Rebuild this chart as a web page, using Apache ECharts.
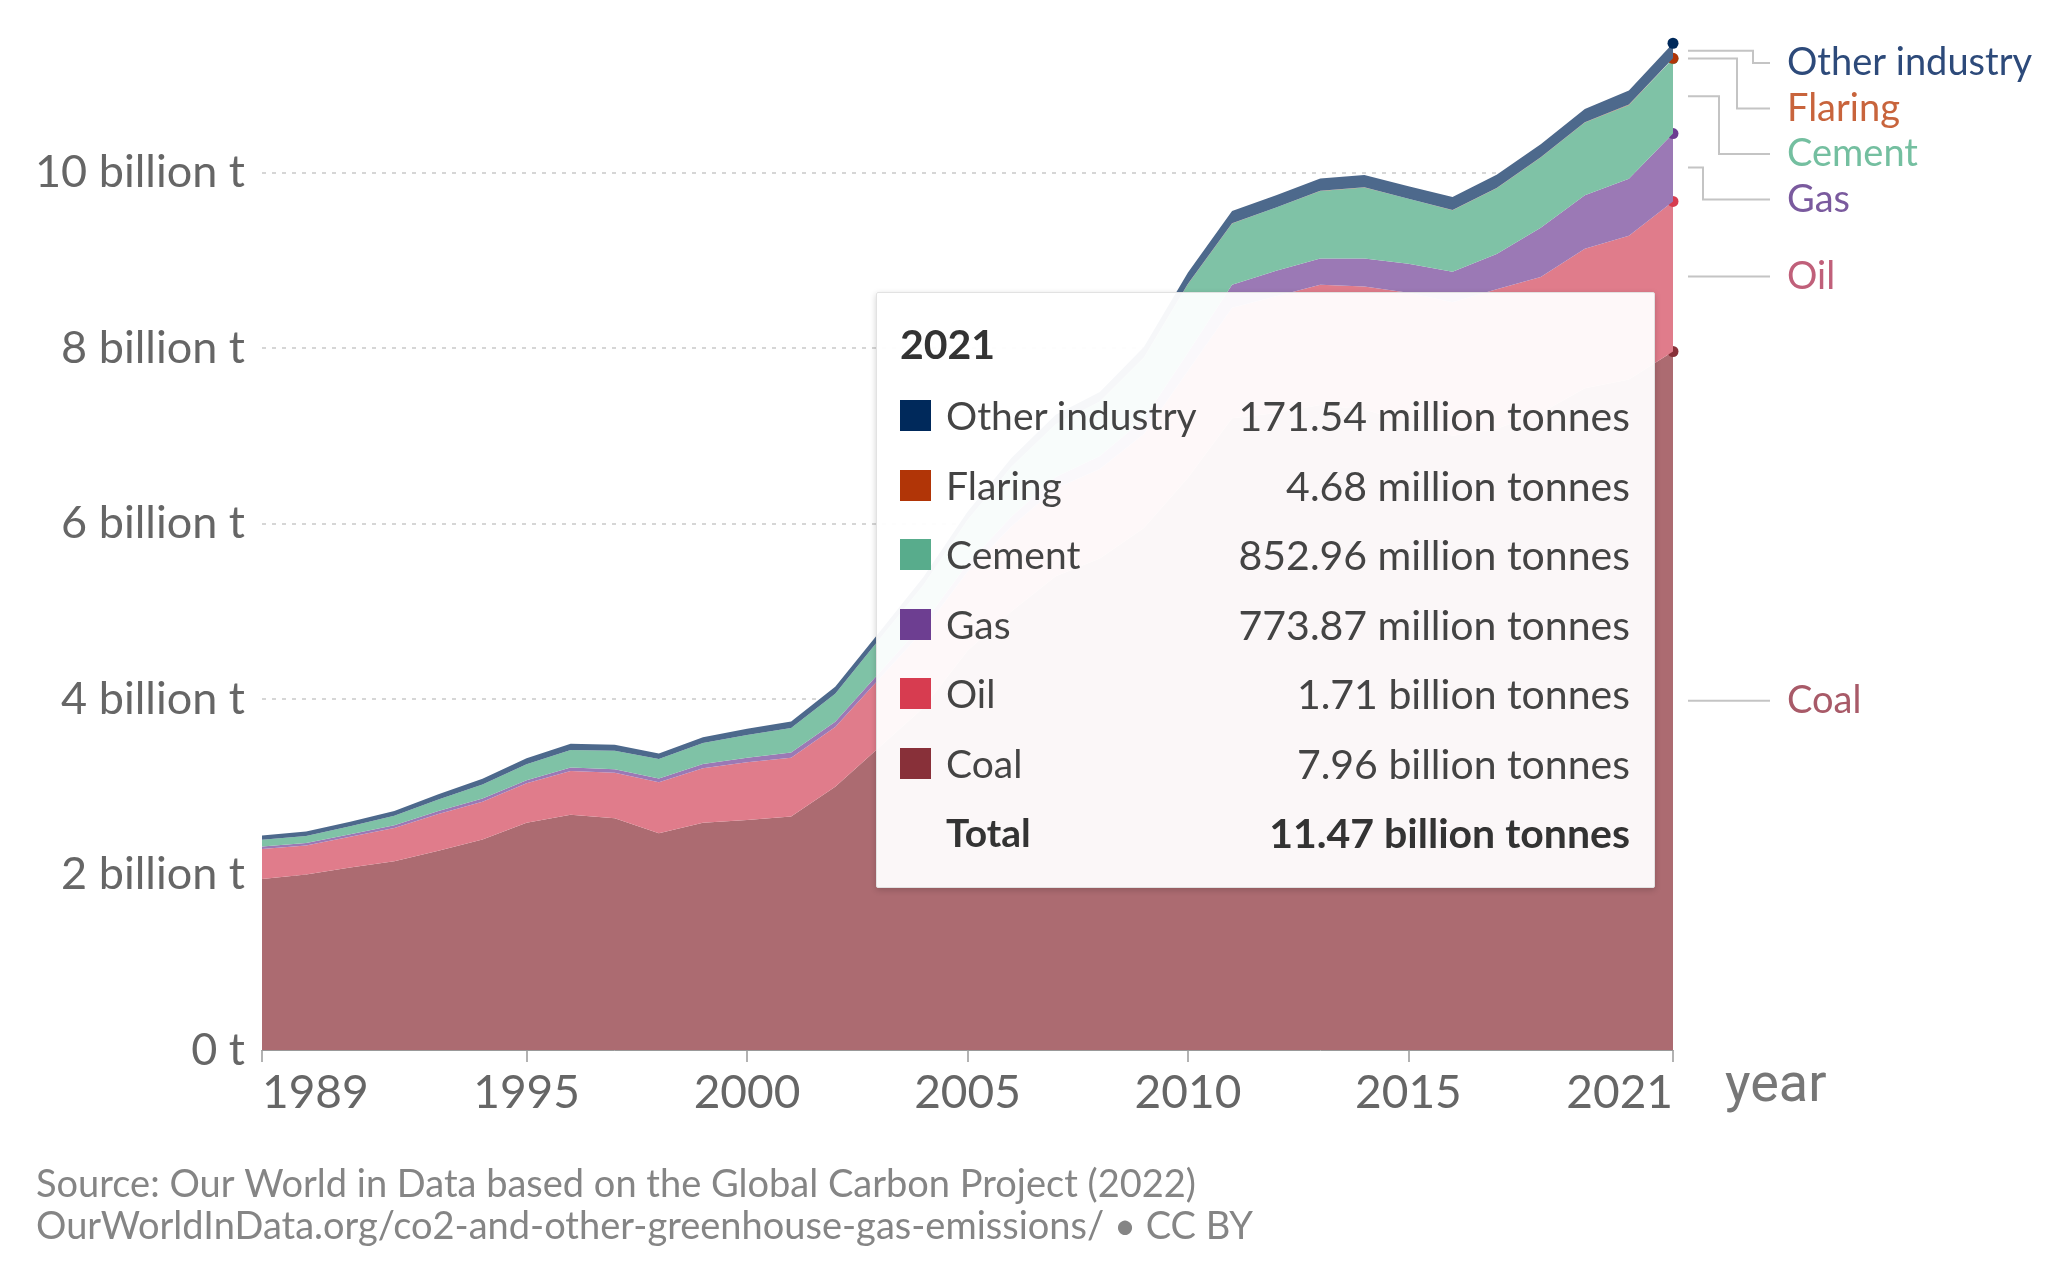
<!DOCTYPE html>
<html>
<head>
<meta charset="utf-8">
<script src="https://cdn.jsdelivr.net/npm/echarts@6/dist/echarts.min.js"></script>
<style>
html, body { margin: 0; padding: 0; background: #fff; }
#main { width: 2066px; height: 1278px; }
</style>
</head>
<body>
<div id="main"></div>
<script>
// values in million tonnes of CO2
let years = [1989, 1990, 1991, 1992, 1993, 1994, 1995, 1996, 1997, 1998, 1999, 2000, 2001, 2002, 2003, 2004, 2005,
    2006, 2007, 2008, 2009, 2010, 2011, 2012, 2013, 2014, 2015, 2016, 2017, 2018, 2019, 2020, 2021];
let coal = [1950, 2000, 2080, 2150, 2270, 2400, 2590, 2680, 2640, 2470, 2590, 2620, 2660, 3000, 3450, 3900, 4550,
    5000, 5400, 5600, 5950, 6520, 7200, 7260, 7350, 7300, 7150, 7000, 7080, 7260, 7540, 7640, 7960];
let oil = [340, 330, 350, 380, 420, 430, 450, 500, 520, 580, 620, 660, 670, 680, 780, 880, 900,
    970, 1000, 1020, 1070, 1220, 1260, 1330, 1370, 1400, 1480, 1520, 1590, 1550, 1590, 1640, 1710];
let gas = [30, 30, 30, 30, 35, 35, 35, 40, 40, 45, 50, 50, 60, 60, 70, 80, 90,
    110, 130, 150, 170, 210, 260, 290, 300, 320, 330, 350, 400, 560, 610, 650, 773.87];
let cement = [75, 80, 90, 110, 130, 160, 180, 200, 210, 220, 240, 260, 280, 320, 380, 440, 500,
    570, 600, 620, 700, 780, 700, 720, 770, 810, 740, 700, 750, 800, 830, 840, 852.96];
let flaring = [0, 0, 0, 0, 0, 0, 0, 0, 0, 0, 0, 0, 0, 0, 0, 0, 0,
    0, 0, 0, 1, 1, 1, 1, 2, 2, 2, 2, 3, 3, 4, 4, 4.68];
let otherIndustry = [50, 50, 50, 55, 60, 65, 70, 70, 70, 65, 65, 70, 75, 80, 80, 90, 95,
    100, 110, 110, 120, 130, 140, 140, 140, 140, 140, 150, 150, 150, 150, 160, 171.54];

let tickYears = [1989, 1995, 2000, 2005, 2010, 2015, 2021];
let yTicks = [0, 2000, 4000, 6000, 8000, 10000];

// stacking order, bottom to top
let seriesNames = ['Coal', 'Oil', 'Gas', 'Cement', 'Flaring', 'Other industry'];
let seriesData = [coal, oil, gas, cement, flaring, otherIndustry];
let swatchColors = ['#883039', '#D73C50', '#6D3E91', '#58AC8C', '#B13507', '#00295B'];
let areaColors = ['#ac6b71', '#e07c8b', '#9b79b5', '#7fc2a6', '#c87151', '#4d698c'];
let labelColors = ['#a85a68', '#c0607a', '#7a5a9e', '#74bfa0', '#c8643c', '#2d4a7a'];

let last = years.length - 1;
let fontFamily = 'Lato, "Noto Sans", sans-serif';

function fmtTonnes(v) {
    if (v >= 1000) {
        return (v / 1000).toFixed(2) + ' billion tonnes';
    }
    return v.toFixed(2) + ' million tonnes';
}

let chart = echarts.init(document.getElementById('main'));

let series = seriesData.map(function (d, i) {
    return {
        name: seriesNames[i],
        type: 'line',
        stack: 'total',
        data: d,
        showSymbol: true,
        showAllSymbol: true,
        symbol: 'circle',
        symbolSize: function (val, params) {
            return params.dataIndex === last ? 10 : 0; // only the hovered 2021 dots
        },
        itemStyle: { color: swatchColors[i] },
        lineStyle: { width: 0 },
        areaStyle: { color: areaColors[i], opacity: 1 },
        emphasis: { disabled: true },
        z: 2 + i
    };
});

chart.setOption({
    animation: false,
    backgroundColor: '#ffffff',
    grid: {
        left: 262,
        right: 393,
        top: -3,
        bottom: 228,
        outerBoundsMode: 'none'
    },
    xAxis: {
        type: 'category',
        data: years,
        boundaryGap: false,
        name: 'year',
        nameLocation: 'end',
        nameGap: 52,
        nameTextStyle: {
            color: '#777',
            fontSize: 54,
            fontFamily: 'Roboto, sans-serif',
            verticalAlign: 'top',
            padding: [10, 0, 0, 0]
        },
        axisLine: { show: true, lineStyle: { color: '#999', width: 1 } },
        axisTick: {
            show: true,
            length: 12,
            lineStyle: { color: '#999', width: 1.5 },
            interval: function (idx, val) { return tickYears.indexOf(+val) >= 0; }
        },
        axisLabel: {
            color: '#666',
            fontSize: 46,
            fontFamily: fontFamily,
            margin: 20,
            alignMinLabel: 'left',
            alignMaxLabel: 'right',
            interval: function (idx, val) { return tickYears.indexOf(+val) >= 0; }
        },
        splitLine: { show: false }
    },
    yAxis: {
        type: 'value',
        min: 0,
        max: 12000,
        interval: 2000,
        axisLine: { show: false },
        axisTick: { show: false },
        axisLabel: {
            color: '#666',
            fontSize: 45,
            fontFamily: fontFamily,
            margin: 17,
            showMaxLabel: false,
            formatter: function (v) {
                if (yTicks.indexOf(v) < 0) return '';
                return v === 0 ? '0 t' : (v / 1000) + ' billion t';
            }
        },
        splitLine: {
            show: true,
            lineStyle: { color: '#d6d6d6', width: 2, type: [4, 6] }
        }
    },
    tooltip: {
        trigger: 'axis',
        triggerOn: 'none',
        alwaysShowContent: true,
        showDelay: 0,
        transitionDuration: 0,
        axisPointer: { type: 'none' },
        position: [876, 292],
        padding: 0,
        borderWidth: 1,
        borderColor: '#e2e2e2',
        borderRadius: 2,
        backgroundColor: 'rgba(255,255,255,0.95)',
        extraCssText: 'width:779px;height:596px;box-sizing:border-box;box-shadow:0 2px 6px rgba(0,0,0,0.18);',
        formatter: function (params) {
            let i = params[0].dataIndex;
            let total = 0;
            let rows = '';
            for (let k = seriesNames.length - 1; k >= 0; k--) {
                let v = seriesData[k][i];
                total += v;
                rows += '<tr style="height:69.5px">' +
                    '<td style="width:46px;padding:0"><span style="display:inline-block;width:31px;height:31px;vertical-align:middle;background:' + swatchColors[k] + '"></span></td>' +
                    '<td style="padding:0;color:#444;font-size:39px">' + seriesNames[k] + '</td>' +
                    '<td style="padding:0;text-align:right;color:#444;font-size:41px">' + fmtTonnes(v) + '</td></tr>';
            }
            rows += '<tr style="height:69.5px"><td></td>' +
                '<td style="padding:0;font-weight:bold;color:#333;font-size:39px">Total</td>' +
                '<td style="padding:0;text-align:right;font-weight:bold;color:#333;font-size:41px">' + fmtTonnes(total) + '</td></tr>';
            return '<div style="font-family:' + fontFamily.replace(/"/g, "'") + ';font-size:39px;padding:26px 24px 0 23px;">' +
                '<div style="font-weight:bold;font-size:41px;line-height:50px;color:#333">' + years[i] + '</div>' +
                '<table style="border-collapse:collapse;width:100%;margin-top:12px">' + rows + '</table></div>';
        }
    },
    series: series
});

// end labels with elbow leader lines, placed from the stacked band midpoints at the last year
let endX = chart.convertToPixel({ gridIndex: 0 }, [last, 0])[0];
let base = 0;
let ends = [];
for (let k = 0; k < seriesData.length; k++) {
    let v = seriesData[k][last];
    let mid = base + v / 2;
    ends.push({ k: k, y: chart.convertToPixel({ gridIndex: 0 }, [last, mid])[1] });
    base += v;
}
ends.sort(function (a, b) { return a.y - b.y; });
let minLabelY = 63;
let labelGap = 45.5;
let bendOffsets = [80, 64, 46, 30, 50, 50];
let graphics = [];
let prevY = -Infinity;
ends.forEach(function (e, n) {
    let ly = Math.max(e.y, n === 0 ? minLabelY : prevY + labelGap);
    prevY = ly;
    let x0 = endX + 15;
    let xb = endX + bendOffsets[n];
    let x1 = endX + 97;
    let pts = Math.abs(ly - e.y) < 1 ? [[x0, e.y], [x1, e.y]] : [[x0, e.y], [xb, e.y], [xb, ly], [x1, ly]];
    graphics.push({
        type: 'polyline',
        shape: { points: pts },
        style: { stroke: '#c4c4c4', lineWidth: 2, fill: null },
        silent: true
    });
    graphics.push({
        type: 'text',
        x: endX + 114,
        y: ly,
        style: {
            text: seriesNames[e.k],
            fill: labelColors[e.k],
            font: '38px ' + fontFamily,
            verticalAlign: 'middle'
        },
        silent: true
    });
});

// source note
graphics.push({
    type: 'text', left: 36, top: 1166,
    style: { text: 'Source: Our World in Data based on the Global Carbon Project (2022)', fill: '#858585', font: '38px ' + fontFamily }
});
graphics.push({
    type: 'text', left: 36, top: 1208,
    style: { text: 'OurWorldInData.org/co2-and-other-greenhouse-gas-emissions/ \u2022 CC BY', fill: '#858585', font: '38px ' + fontFamily }
});

chart.setOption({ graphic: graphics });

chart.dispatchAction({ type: 'showTip', seriesIndex: 0, dataIndex: last });
</script>
</body>
</html>
